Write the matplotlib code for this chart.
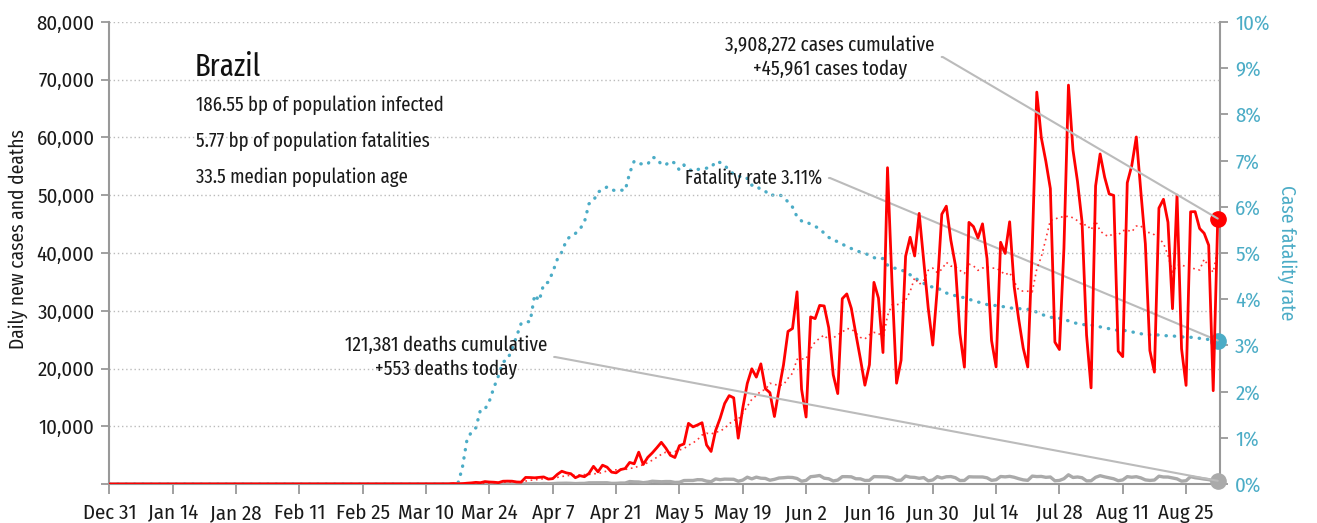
import numpy as np
import pandas as pd
import matplotlib
matplotlib.use("Agg")
import matplotlib.pyplot as plt

plt.rcParams['font.family'] = ['Fira Sans Condensed', 'DejaVu Sans']
NARROW = ['Fira Sans Extra Condensed', 'Fira Sans Condensed', 'DejaVu Sans']

# ---------------- data (national report dates, Dec 30 2019 .. Aug 31 2020) ----------------
cases_dec = [0, 0]
cases_jan = [0] * 31
cases_feb = [0] * 25 + [1, 0, 0, 1]
cases_mar = [0, 0, 0, 1, 5, 5, 6, 6, 0, 9, 18, 25, 21, 23, 79, 34, 57, 137, 193, 283,
             224, 418, 345, 310, 232, 482, 502, 487, 352, 323, 1138]
cases_apr = [1119, 1074, 1146, 1222, 852, 926, 1661, 2210, 1930, 1781, 1089, 1442, 1261, 1832,
             3058, 2105, 3257, 2917, 2055, 1927, 2498, 2678, 3735, 3503, 5514, 3379, 4613, 5385,
             6276, 7218]
cases_may = [6209, 4970, 4588, 6633, 6935, 10503, 9888, 10222, 10611, 6760, 5632, 9258, 11385,
             13944, 15305, 14919, 7938, 13140, 17408, 19951, 18508, 20803, 16508, 15813, 11687,
             16324, 20599, 26417, 26928, 33274, 16409]
cases_jun = [11598, 28936, 28633, 30925, 30830, 27075, 18912, 15654, 32091, 32913, 30412, 25982,
             21704, 17110, 20647, 34918, 32188, 22765, 54771, 34666, 17459, 21432, 39436, 42725,
             39483, 46860, 38693, 30476, 24052, 33846]
cases_jul = [46712, 48105, 42223, 37923, 26051, 20229, 45305, 44571, 42619, 45048, 39023, 24831,
             20286, 41857, 39924, 45403, 34177, 28532, 23529, 20257, 41008, 67860, 59961, 55891,
             51147, 24578, 23284, 40816, 69074, 57837, 52383]
cases_aug = [45392, 25800, 16641, 51603, 57152, 53139, 50230, 49970, 23010, 22048, 52160, 55155,
             60091, 50644, 41576, 23101, 19373, 47784, 49298, 45323, 30355, 50032, 23421, 17078,
             47134, 47161, 44235, 43412, 41350, 16158, 45961]

deaths_dec = [0, 0]
deaths_jan = [0] * 31
deaths_feb = [0] * 29
deaths_mar = [0] * 16 + [1, 3, 3, 4, 7, 7, 9, 12, 11, 20, 15, 22, 22, 23, 42]
deaths_apr = [39, 84, 35, 86, 41, 67, 114, 133, 141, 115, 68, 99, 105, 204, 204, 188, 217, 213,
              108, 113, 166, 165, 425, 373, 353, 229, 317, 480, 430, 388]
deaths_may = [428, 421, 275, 296, 600, 615, 610, 751, 730, 496, 396, 881, 749, 844, 824, 816, 485,
              674, 1179, 888, 1188, 1001, 965, 653, 807, 1039, 1086, 1156, 1124, 956, 480]
deaths_jun = [623, 1262, 1349, 1473, 1005, 904, 525, 679, 1272, 1274, 1239, 909, 892, 612, 627,
              1282, 1269, 1238, 1206, 1022, 641, 654, 1374, 1185, 1141, 990, 1109, 552, 692, 1280]
deaths_jul = [1038, 1252, 1290, 1091, 602, 620, 1254, 1223, 1220, 1214, 1071, 631, 733, 1300,
              1233, 1322, 1163, 921, 716, 632, 1367, 1284, 1311, 1156, 1211, 555, 614, 921, 1595,
              1129, 1212]
deaths_aug = [1088, 541, 561, 1154, 1437, 1237, 1079, 905, 572, 703, 1274, 1175, 1262, 1060, 709,
              620, 684, 1352, 1212, 1204, 1054, 892, 494, 565, 1271, 1085, 984, 855, 758, 566, 553]

x_tick_labels = ["Dec 31", "Jan 14", "Jan 28", "Feb 11", "Feb 25", "Mar 10", "Mar 24", "Apr 7",
                 "Apr 21", "May 5", "May 19", "Jun 2", "Jun 16", "Jun 30", "Jul 14", "Jul 28",
                 "Aug 11", "Aug 25"]
y_tick_labels = ["", "10,000", "20,000", "30,000", "40,000", "50,000", "60,000", "70,000", "80,000"]
y2_tick_labels = ["0%", "1%", "2%", "3%", "4%", "5%", "6%", "7%", "8%", "9%", "10%"]

country = "Brazil"
info_lines = ["186.55 bp of population infected",
              "5.77 bp of population fatalities",
              "33.5 median population age"]
cases_note = "3,908,272 cases cumulative\n+45,961 cases today"
deaths_note = "121,381 deaths cumulative\n+553 deaths today"
cfr_note = "Fatality rate 3.11%"

# ---------------- derived series ----------------
cases = np.array(cases_dec + cases_jan + cases_feb + cases_mar + cases_apr + cases_may +
                 cases_jun + cases_jul + cases_aug, dtype=float)
deaths = np.array(deaths_dec + deaths_jan + deaths_feb + deaths_mar + deaths_apr + deaths_may +
                  deaths_jun + deaths_jul + deaths_aug, dtype=float)
report_dates = pd.date_range("2019-12-30", "2020-08-31", freq="D")
dates = report_dates + pd.Timedelta(days=1)   # series published the day after each report

ma7 = pd.Series(cases).rolling(7, min_periods=1).mean().values
cum_c = np.cumsum(cases)
cum_d = np.cumsum(deaths)
cfr = np.where(cum_c > 0, cum_d / np.maximum(cum_c, 1), 0.0)

RED = "#ff0000"
BLUE = "#4bacc6"
GREY = "#aaaaaa"
AXC = "#999999"
TXT = "#1a1a1a"

W, H = 1317, 523
fig = plt.figure(figsize=(W / 100, H / 100), dpi=100)
ax = fig.add_axes([108.5 / W, 39 / H, (1220 - 108.5) / W, 462 / H])
ax2 = ax.twinx()
ax.set_zorder(2)
ax.patch.set_visible(False)

# lines
ax.plot(dates, deaths, color=GREY, lw=2.4, solid_joinstyle="round", zorder=3)
ax2.plot(dates, cfr, color=BLUE, lw=2.4, linestyle=(0, (0.1, 2.4)), dash_capstyle="round", zorder=3)
ax.plot(dates, cases, color=RED, lw=2.0, zorder=4)
ax.plot(dates, ma7, color=RED, lw=1.2, linestyle=(0, (1, 2.2)), alpha=0.8, zorder=5)

ax.plot(dates[-1:], cases[-1:], "o", color=RED, ms=11, zorder=6, clip_on=False)
ax.plot(dates[-1:], deaths[-1:], "o", color=GREY, ms=11, zorder=6, clip_on=False)
ax2.plot(dates[-1:], cfr[-1:], "o", color=BLUE, ms=11, zorder=6, clip_on=False)

# axes
xt = pd.date_range("2019-12-31", periods=len(x_tick_labels), freq="14D")
ax.set_xlim(pd.Timestamp("2019-12-31") - pd.Timedelta(hours=5),
            pd.Timestamp("2020-09-01") + pd.Timedelta(hours=12))
ax.set_xticks(xt)
ax.set_xticklabels(x_tick_labels)
ax.set_ylim(0, 80000)
ax.set_yticks(np.arange(0, 80001, 10000))
ax.set_yticklabels(y_tick_labels)
ax2.set_ylim(0, 0.10)
ax2.set_yticks(np.arange(0, 0.1001, 0.01))
ax2.set_yticklabels(y2_tick_labels)

ax.yaxis.grid(True, linestyle=(0, (1, 2)), color="#bbbbbb", lw=1.0)
ax.set_axisbelow(True)

for a in (ax, ax2):
    a.spines["top"].set_visible(False)
    for s in ("left", "right", "bottom"):
        a.spines[s].set_color(AXC)
        a.spines[s].set_linewidth(1.5)
ax.spines["right"].set_visible(False)
ax2.spines["left"].set_visible(False)
ax2.spines["bottom"].set_visible(False)

TS = 15
ax.tick_params(axis="y", colors=AXC, labelcolor=TXT, length=6, width=1.3, labelsize=TS, pad=4)
ax.tick_params(axis="x", colors=AXC, labelcolor=TXT, length=7, width=1.3, labelsize=TS, pad=7)
ax2.tick_params(axis="y", colors=AXC, labelcolor=BLUE, length=6, width=1.3, labelsize=TS, pad=5)

ax.set_ylabel("Daily new cases and deaths", fontsize=14, color=TXT, va="center")
ax.yaxis.set_label_coords((18 - 108.5) / 1111.5, 0.53)
ax2.set_ylabel("Case fatality rate", fontsize=14, color=BLUE, rotation=270, va="center")
ax2.yaxis.set_label_coords((1287 - 108.5) / 1111.5, 0.5)

# texts
def fx(px):
    return px / W

def fy(py):
    return 1 - py / H

fig.text(fx(195), fy(67), country, fontsize=22.5, color="#111111", ha="left", va="center",
         family=NARROW)
for i, line in enumerate(info_lines):
    fig.text(fx(196), fy(105 + 36 * i), line, fontsize=14.7, color=TXT, ha="left", va="center",
             family=NARROW)

line_kw = dict(arrowstyle="-", color="#bbbbbb", lw=1.5, shrinkA=3, shrinkB=0,
               connectionstyle="arc,angleA=0,angleB=0,armA=8,armB=0,rad=0", relpos=(1, 0.5))

ax.annotate(cases_note, xy=(dates[-1], cases[-1]), xycoords="data",
            xytext=(fx(830), fy(57)), textcoords="figure fraction",
            ha="center", va="center", fontsize=15, color=TXT, linespacing=1.25,
            family=NARROW, arrowprops=line_kw, zorder=7)
ax.annotate(deaths_note, xy=(dates[-1], deaths[-1]), xycoords="data",
            xytext=(fx(446), fy(357)), textcoords="figure fraction",
            ha="center", va="center", fontsize=15, color=TXT, linespacing=1.25,
            family=NARROW, arrowprops=line_kw, zorder=7)
ax2.annotate(cfr_note, xy=(dates[-1], cfr[-1]), xycoords="data",
             xytext=(fx(822), fy(178)), textcoords="figure fraction",
             ha="right", va="center", fontsize=14.6, color=TXT,
             family=NARROW, arrowprops=line_kw, zorder=7)

fig.savefig("out.png", dpi=100)
